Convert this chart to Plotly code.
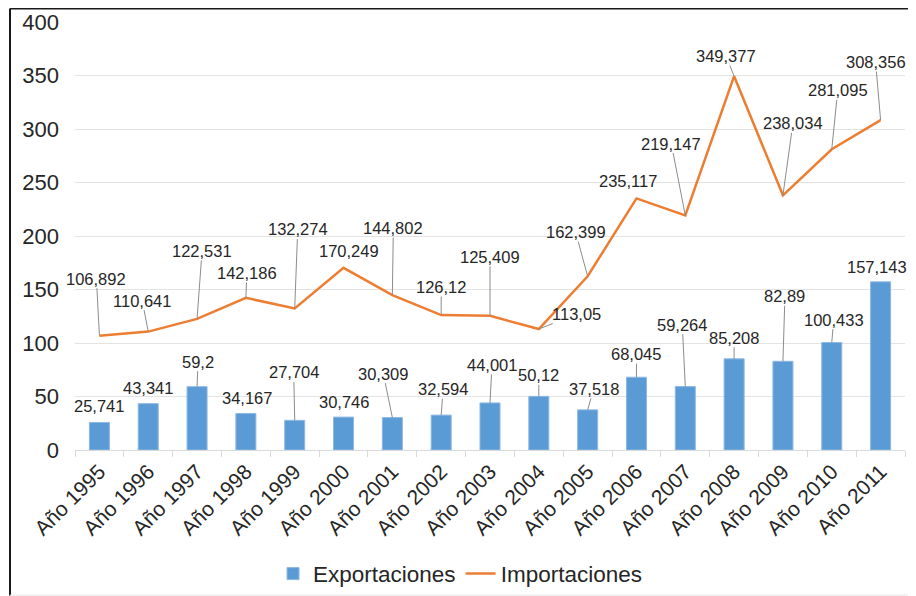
import plotly.graph_objects as go

years = ["Año 1995", "Año 1996", "Año 1997", "Año 1998", "Año 1999", "Año 2000",
         "Año 2001", "Año 2002", "Año 2003", "Año 2004", "Año 2005", "Año 2006",
         "Año 2007", "Año 2008", "Año 2009", "Año 2010", "Año 2011"]
exportaciones = [25.741, 43.341, 59.2, 34.167, 27.704, 30.746, 30.309, 32.594, 44.001,
                 50.12, 37.518, 68.045, 59.264, 85.208, 82.89, 100.433, 157.143]
importaciones = [106.892, 110.641, 122.531, 142.186, 132.274, 170.249, 144.802, 126.12,
                 125.409, 113.05, 162.399, 235.117, 219.147, 349.377, 238.034, 281.095, 308.356]

# label offsets (pixels) and whether a leader line is shown
exp_off = [(0, -16, 0), (0, -16, 0), (1, -25, 1), (1, -15, 0), (-1, -48, 1), (0, -15, 0),
           (-9, -44, 1), (2, -26, 1), (2, -38, 1), (0, -21, 1), (6, -21, 1), (0, -23, 1),
           (-3, -62, 1), (0, -21, 1), (2, -65, 1), (2, -23, 1), (-4, -15, 0)]
imp_off = [(-3, -57, 1), (-6, -31, 1), (5, -68, 1), (1, -25, 1), (3, -79, 1), (5, -17, 0),
           (1, -67, 1), (0, -28, 1), (0, -59, 1), (38, -15, 1), (-12, -44, 1), (-8, -17, 0),
           (-14, -72, 1), (-8, -20, 1), (10, -72, 1), (6, -59, 1), (-5, -58, 1)]

def fmt(v):
    s = ("%.3f" % v).rstrip("0").rstrip(".")
    return s.replace(".", ",")

FONT = "Liberation Sans, Arial, sans-serif"

fig = go.Figure()
fig.add_trace(go.Bar(x=years, y=exportaciones, name="Exportaciones",
                     marker=dict(color="#5B9BD5", line=dict(color="#8DB8E3", width=1))))
fig.add_trace(go.Scatter(x=years, y=importaciones, name="Importaciones", mode="lines",
                         line=dict(color="#ED7D31", width=2.5)))

annotations = []
for series, offs in ((exportaciones, exp_off), (importaciones, imp_off)):
    for cat, v, (ax, ay, lead) in zip(years, series, offs):
        annotations.append(dict(
            x=cat, y=v, text=fmt(v), showarrow=True, arrowhead=0,
            arrowwidth=1, arrowcolor="#8C8C8C" if lead else "rgba(0,0,0,0)",
            ax=ax, ay=ay, font=dict(family=FONT, size=16.5, color="#262626"),
            borderpad=0))

fig.update_layout(
    width=916, height=596,
    margin=dict(l=67, r=19, t=14, b=154, autoexpand=False),
    paper_bgcolor="white", plot_bgcolor="white",
    font=dict(family=FONT, color="#262626"),
    bargap=0.59,
    showlegend=True,
    legend=dict(orientation="h", x=0.2386, xanchor="left", y=-0.2897, yanchor="middle",
                font=dict(family=FONT, size=22.5, color="#262626"),
                itemwidth=30, traceorder="normal", bgcolor="rgba(0,0,0,0)"),
    annotations=annotations,
    xaxis=dict(type="category", range=[-0.5, len(years) - 0.5], autorange=False,
               tickangle=-45, tickfont=dict(family=FONT, size=21, color="#262626"),
               showgrid=False, showline=True, linecolor="#D9D9D9", linewidth=1,
               ticks="outside", tickson="boundaries", ticklen=6, tickcolor="#D9D9D9",
               zeroline=False, automargin=False),
    yaxis=dict(range=[0, 400], dtick=50, tickfont=dict(family=FONT, size=22, color="#262626"),
               showgrid=True, gridcolor="#E3E3E3", gridwidth=1, zeroline=False,
               showline=False, ticks="", ticklabelstandoff=15, automargin=False),
    shapes=[
        dict(type="line", xref="paper", yref="paper", x0=-0.0783, x1=-0.0783,
             y0=-0.34, y1=1.0315, line=dict(color="#1A1A1A", width=2)),
        dict(type="line", xref="paper", yref="paper", x0=-0.0783, x1=1.03,
             y0=1.0315, y1=1.0315, line=dict(color="#1A1A1A", width=2)),
        dict(type="line", xref="paper", yref="paper", x0=-0.0783, x1=1.03,
             y0=-0.3388, y1=-0.3388, line=dict(color="#E6E6E6", width=1)),
    ],
)

fig.write_html("out.html")
